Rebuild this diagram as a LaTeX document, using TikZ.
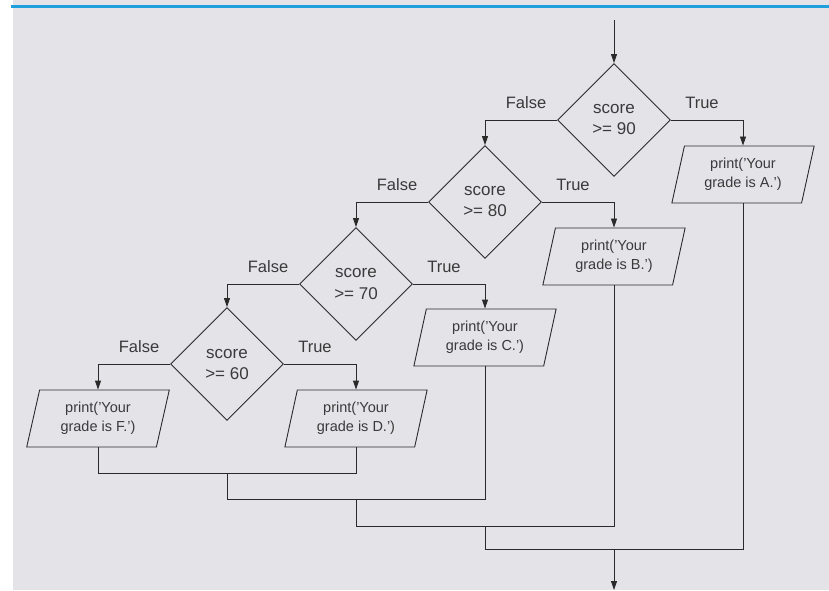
\documentclass[tikz,border=0pt]{standalone}
\usepackage{fontspec}
\setmainfont{Liberation Sans}
\usetikzlibrary{shapes.geometric,arrows.meta}
\definecolor{bgc}{HTML}{E4E3E8}
\definecolor{bluec}{HTML}{1DA0DC}
\definecolor{linec}{HTML}{2A2A2A}
\definecolor{textc}{HTML}{3A3A3A}
\tikzset{
  decision/.style={diamond, draw=linec, line width=0.9pt, minimum width=113pt, minimum height=113pt, inner sep=0pt, align=center, text=textc, font=\fontsize{17}{21}\selectfont},
  printbox/.style={trapezium, trapezium left angle=75.7, trapezium right angle=104.3, trapezium stretches=true, minimum width=143pt, minimum height=57pt, inner sep=0pt, draw=linec, line width=0.9pt, align=center, text=textc, font=\fontsize{14.5}{19}\selectfont},
  flow/.style={draw=linec, line width=0.9pt},
  arr/.style={flow, -{Triangle[width=6pt,length=9pt]}},
  lbl/.style={text=textc, font=\fontsize{16.5}{20}\selectfont, inner sep=0pt}
}
\begin{document}
\begin{tikzpicture}[x=1pt,y=-1pt]
\useasboundingbox (0,0) rectangle (829,590);
\fill[white] (0,0) rectangle (829,590);
\fill[bgc] (13,0) rectangle (829,590);
\draw[bluec, line width=3pt] (11,6.5) -- (829,6.5);

% decisions
\node[decision] (d1) at (614,120) {score\\>= 90};
\node[decision] (d2) at (485,202) {score\\>= 80};
\node[decision] (d3) at (356,284) {score\\>= 70};
\node[decision] (d4) at (227,364) {score\\>= 60};

% outputs
\node[printbox] (pA) at (743,174.5) {print('Your\\grade is A.')};
\node[printbox] (pB) at (614,256.5) {print('Your\\grade is B.')};
\node[printbox] (pC) at (485,337.5) {print('Your\\grade is C.')};
\node[printbox] (pD) at (356,418.5) {print('Your\\grade is D.')};
\node[printbox] (pF) at (98,418.5) {print('Your\\grade is F.')};

% entry / exit
\coordinate (start) at (614,20);
\coordinate (j1) at (227,473);
\coordinate (j2) at (356,499);
\coordinate (j3) at (485,526);
\coordinate (j4) at (614,549);
\coordinate (finish) at (614,590);

\draw[arr] (start) -- (d1.north);

% branches
\draw[arr] (d1.east) -| (pA.north);
\draw[arr] (d1.west) -| (d2.north);
\draw[arr] (d2.east) -| (pB.north);
\draw[arr] (d2.west) -| (d3.north);
\draw[arr] (d3.east) -| (pC.north);
\draw[arr] (d3.west) -| (d4.north);
\draw[arr] (d4.east) -| (pD.north);
\draw[arr] (d4.west) -| (pF.north);

% labels
\foreach \d in {d1,d2,d3,d4}{
  \node[lbl] (\d f) at ([xshift=-31pt,yshift=17pt]\d.west) {False};
  \node[lbl] (\d t) at ([xshift=31pt,yshift=17pt]\d.east) {True};
}

% merges
\draw[flow] (pF.south) -- (pF.south |- j1) -- (pD.south |- j1) -- (pD.south);
\draw[flow] (j1) -- (j1 |- j2) -- (pC.south |- j2) -- (pC.south);
\draw[flow] (j2) -- (j2 |- j3) -- (pB.south |- j3) -- (pB.south);
\draw[flow] (j3) -- (j3 |- j4) -- (pA.south |- j4) -- (pA.south);
\draw[arr] (j4) -- (finish);
\end{tikzpicture}
\end{document}
